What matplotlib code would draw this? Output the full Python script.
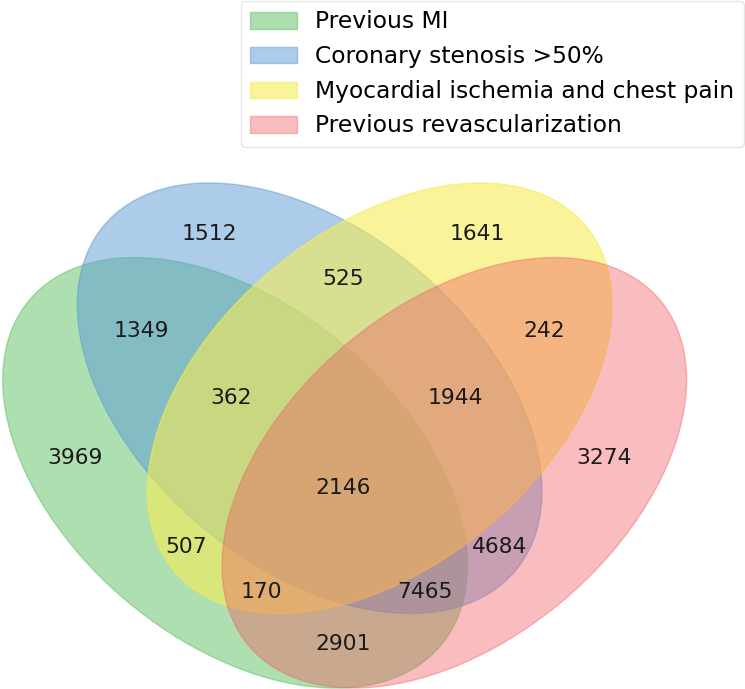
import matplotlib
matplotlib.use("Agg")
import matplotlib.pyplot as plt
from matplotlib import patches

names = ["Previous MI", "Coronary stenosis >50%",
         "Myocardial ischemia and chest pain", "Previous revascularization"]

# region keys: membership in (MI, stenosis, ischemia, revasc)
region_keys = ["0001", "0010", "0011", "0100", "0101", "0110", "0111", "1000",
               "1001", "1010", "1011", "1100", "1101", "1110", "1111"]
region_counts = [3274, 1641, 242, 1512, 4684, 525, 1944, 3969,
                 2901, 507, 170, 1349, 7465, 362, 2146]

colors = [
    [92, 192, 98, 0.5],
    [90, 155, 212, 0.5],
    [246, 236, 86, 0.6],
    [241, 90, 96, 0.4],
]
colors = [[c[0] / 255.0, c[1] / 255.0, c[2] / 255.0, c[3]] for c in colors]

# ellipse layout (x, y, w, h, angle)
ellipses = [(0.350, 0.400, 0.72, 0.45, 140.0),
            (0.450, 0.500, 0.72, 0.45, 140.0),
            (0.544, 0.500, 0.72, 0.45, 40.0),
            (0.644, 0.400, 0.72, 0.45, 40.0)]
label_pos = {"0001": (0.85, 0.42), "0010": (0.68, 0.72), "0011": (0.77, 0.59),
             "0100": (0.32, 0.72), "0101": (0.71, 0.30), "0110": (0.50, 0.66),
             "0111": (0.65, 0.50), "1000": (0.14, 0.42), "1001": (0.50, 0.17),
             "1010": (0.29, 0.30), "1011": (0.39, 0.24), "1100": (0.23, 0.59),
             "1101": (0.61, 0.24), "1110": (0.35, 0.50), "1111": (0.50, 0.38)}

fig = plt.figure(figsize=(7.45, 6.89), dpi=100)
ax = fig.add_axes([-0.0350, -0.1193, 1.0013, 1.0827])
ax.set_axis_off()
ax.set_xlim(0, 1)
ax.set_ylim(0, 1)

handles = []
for (x, y, w, h, a), c in zip(ellipses, colors):
    e = patches.Ellipse(xy=(x, y), width=w, height=h, angle=a, color=c)
    ax.add_patch(e)
    handles.append(e)

for k, n in zip(region_keys, region_counts):
    x, y = label_pos[k]
    ax.text(x - 0.005, y, str(n), ha="center", va="center", fontsize=15.7, color="#1a1a1a")

leg = fig.legend(handles, names, loc="upper right", bbox_to_anchor=(1.0, 1.0),
                 fontsize=16.8, fancybox=True, borderaxespad=0.05, labelspacing=0.5)
leg.get_frame().set_alpha(0.5)

fig.savefig("out.png", dpi=100)
